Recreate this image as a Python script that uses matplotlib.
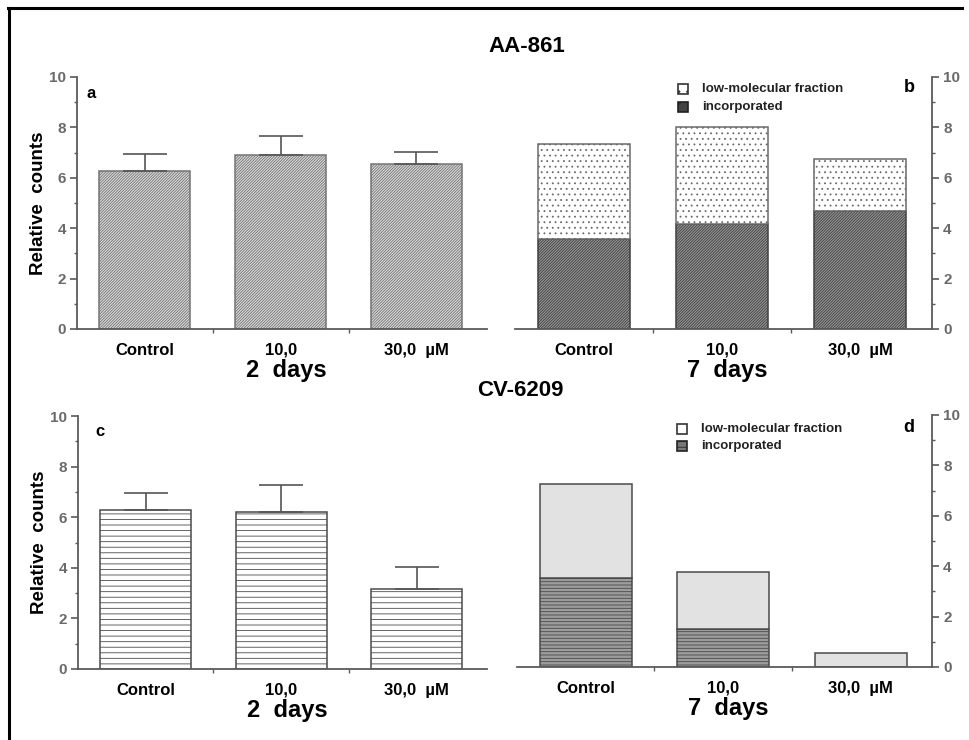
import matplotlib
matplotlib.use("Agg")
import matplotlib.pyplot as plt
from matplotlib.patches import Rectangle
from matplotlib.lines import Line2D
import numpy as np

# ---------------- data ----------------
categories = ["Control", "10,0", "30,0  \u00b5M"]
aa_2d_mean = [6.27, 6.90, 6.55]
aa_2d_err = [0.67, 0.76, 0.47]
aa_7d_incorporated = [3.57, 4.15, 4.68]
aa_7d_total = [7.34, 8.02, 6.74]
cv_2d_mean = [6.28, 6.20, 3.16]
cv_2d_err = [0.68, 1.07, 0.87]
cv_7d_incorporated = [3.53, 1.51, 0.0]
cv_7d_total = [7.26, 3.77, 0.56]
legend_labels = ["low-molecular fraction", "incorporated"]
yticks = [0, 2, 4, 6, 8, 10]

plt.rcParams["font.family"] = ["Liberation Sans", "DejaVu Sans"]
plt.rcParams["hatch.linewidth"] = 0.6

W, H = 970, 740
fig = plt.figure(figsize=(W / 100, H / 100), dpi=100)

def px_axes(x0, x1, y0, y10):
    return fig.add_axes([x0 / W, (H - y0) / H, (x1 - x0) / W, (y0 - y10) / H])

spine_c = "#5a5a5a"
tick_c = "#6a6a6a"

def style(ax, side):
    ax.set_ylim(0, 10)
    ax.set_xlim(-0.5, 2.52)
    for s in ax.spines.values():
        s.set_visible(False)
    ax.spines["bottom"].set_visible(True)
    ax.spines["bottom"].set_color(spine_c)
    ax.spines["bottom"].set_linewidth(1.3)
    ax.spines[side].set_visible(True)
    ax.spines[side].set_color(spine_c)
    ax.spines[side].set_linewidth(1.3)
    ax.set_yticks(yticks)
    ax.set_yticks([1, 3, 5, 7, 9], minor=True)
    if side == "right":
        ax.yaxis.tick_right()
        ax.yaxis.set_label_position("right")
    ax.tick_params(axis="y", which="major", length=5, width=1.2, color=spine_c,
                   labelsize=11, labelcolor=tick_c, pad=3)
    ax.tick_params(axis="y", which="minor", length=2.5, width=1, color=spine_c)
    ax.set_xticks(range(3))
    ax.set_xticklabels(categories, fontsize=12, fontweight="bold")
    ax.set_xticks([0.5, 1.5], minor=True)
    ax.tick_params(axis="x", which="major", length=0, pad=10)
    ax.tick_params(axis="x", which="minor", length=3, width=1, color=spine_c)
    for lbl in ax.get_yticklabels():
        lbl.set_fontweight("bold")

x = np.arange(3)
bw = 0.67

# ---- panel a ----
ax_a = px_axes(77, 487, 329, 77)
style(ax_a, "left")
ax_a.bar(x, aa_2d_mean, width=bw, color="#dadada", edgecolor="#747474",
         hatch="/" * 12, linewidth=1.1, zorder=2)
ax_a.errorbar(x, aa_2d_mean, yerr=[np.zeros(3), aa_2d_err], fmt="none",
              ecolor="#555555", elinewidth=1.2, capsize=16, capthick=1.2, zorder=3)
ax_a.set_ylabel("Relative  counts", fontsize=13.5, fontweight="bold", labelpad=1)

# ---- panel b ----
ax_b = px_axes(515, 932, 329, 77)
style(ax_b, "right")
upper_b = [t - i for t, i in zip(aa_7d_total, aa_7d_incorporated)]
ax_b.bar(x, aa_7d_incorporated, width=bw, color="#959595", edgecolor="#404040",
         hatch="/" * 12, linewidth=1.1, zorder=2)
ax_b.bar(x, upper_b, bottom=aa_7d_incorporated, width=bw, color="white",
         edgecolor="#6a6a6a", hatch="...", linewidth=1.1, zorder=2)

# ---- panel c ----
ax_c = px_axes(78, 487, 669, 416)
style(ax_c, "left")
ax_c.bar(x, cv_2d_mean, width=bw, color="white", edgecolor="#4a4a4a",
         hatch="---", linewidth=1.1, zorder=2)
ax_c.errorbar(x, cv_2d_mean, yerr=[np.zeros(3), cv_2d_err], fmt="none",
              ecolor="#555555", elinewidth=1.2, capsize=16, capthick=1.2, zorder=3)
ax_c.set_ylabel("Relative  counts", fontsize=13.5, fontweight="bold", labelpad=1)

# ---- panel d ----
ax_d = px_axes(517, 932, 667, 415)
style(ax_d, "right")
upper_d = [t - i for t, i in zip(cv_7d_total, cv_7d_incorporated)]
ax_d.bar(x, cv_7d_incorporated, width=bw, color="#9c9c9c", edgecolor="#4a4a4a",
         hatch="-----", linewidth=1.1, zorder=2)
ax_d.bar(x, upper_d, bottom=cv_7d_incorporated, width=bw, color="#e2e2e2",
         edgecolor="#4a4a4a", linewidth=1.1, zorder=2)

# ---- texts ----
def ftext(px, py, s, **kw):
    fig.text(px / W, (H - py) / H, s, **kw)

ftext(527, 47, "AA-861", fontsize=16, fontweight="heavy", ha="center", va="center")
ftext(520, 390, "CV-6209", fontsize=16, fontweight="heavy", ha="center", va="center")
ftext(286, 371, "2  days", fontsize=17, fontweight="bold", ha="center", va="center")
ftext(727, 371, "7  days", fontsize=17, fontweight="bold", ha="center", va="center")
ftext(287, 710, "2  days", fontsize=17, fontweight="bold", ha="center", va="center")
ftext(728, 708, "7  days", fontsize=17, fontweight="bold", ha="center", va="center")
ftext(91, 93, "a", fontsize=12, fontweight="bold", ha="center", va="center")
ftext(909, 88, "b", fontsize=13, fontweight="bold", ha="center", va="center")
ftext(100, 431, "c", fontsize=12, fontweight="bold", ha="center", va="center")
ftext(909, 428, "d", fontsize=13, fontweight="bold", ha="center", va="center")

# legends
def legend_at(cx, cy1, cy2, h1, h2):
    for (cy, st), lab in zip([(cy1, h1), (cy2, h2)], legend_labels):
        r = Rectangle(((cx - 5) / W, (H - cy - 5) / H), 10 / W, 10 / H,
                      transform=fig.transFigure, linewidth=1.2, **st)
        fig.add_artist(r)
        ftext(cx + 19, cy, lab, fontsize=9.5, fontweight="bold", ha="left",
              va="center", color="#222222")

legend_at(683, 89, 107,
          dict(facecolor="white", edgecolor="#333333", hatch=".."),
          dict(facecolor="#444444", edgecolor="#222222", hatch="//"))
legend_at(682, 429, 446,
          dict(facecolor="white", edgecolor="#333333"),
          dict(facecolor="#777777", edgecolor="#222222", hatch="---"))

# frame lines
fig.add_artist(Line2D([8 / W, 962 / W], [(H - 8) / H] * 2, color="black",
                      linewidth=2.2, transform=fig.transFigure))
fig.add_artist(Line2D([9 / W] * 2, [(H - 8) / H, 0], color="black",
                      linewidth=2.2, transform=fig.transFigure))

fig.savefig("out.png", dpi=100, facecolor="white")
